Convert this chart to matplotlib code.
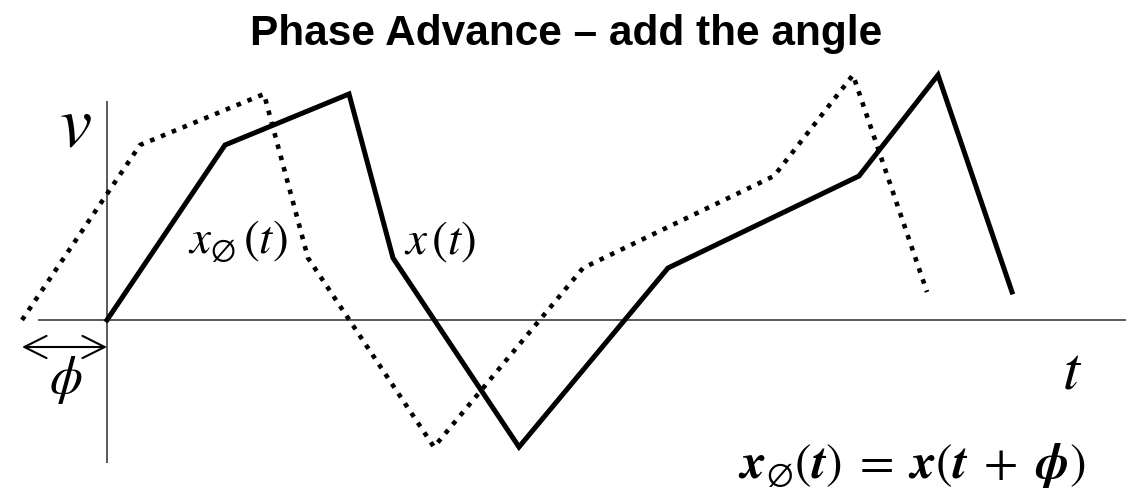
import matplotlib
matplotlib.use("Agg")
import matplotlib.pyplot as plt

plt.rcParams['mathtext.fontset'] = 'stix'

# waveform x(t): breakpoints of the piecewise-linear signal
t_pts = [0.0, 1.18, 2.42, 2.86, 4.12, 5.61, 7.52, 8.31, 9.05]
v_pts = [0.0, 1.75, 2.26, 0.62, -1.27, 0.52, 1.44, 2.45, 0.28]
phi = 0.85  # phase advance

t_adv = [t - phi for t in t_pts]

fig = plt.figure(figsize=(11.32, 4.92), dpi=100)
ax = fig.add_axes([0, 0, 1, 1])
ax.set_xlim(-1.07, 10.25)
ax.set_ylim(-1.72, 3.20)
ax.axis('off')

# axes drawn by hand
axis_col = '#595959'
ax.plot([-0.68, 10.18], [0, 0], color=axis_col, lw=1.4, zorder=1)
ax.plot([0, 0], [-1.42, 2.18], color=axis_col, lw=1.4, zorder=1)

# original and advanced signals
ax.plot(t_pts, v_pts, color='black', lw=3.6, solid_joinstyle='miter', zorder=3)
ax.plot(t_adv, v_pts, color='black', lw=3.3, linestyle=(0, (1.0, 1.55)),
        dash_capstyle='butt', zorder=2)

# phase offset arrow
ax.annotate('', xy=(0, -0.27), xytext=(-phi, -0.27),
            arrowprops=dict(arrowstyle='<->,head_length=0.8,head_width=0.4',
                            color='black', lw=1.5, mutation_scale=20,
                            shrinkA=0, shrinkB=0))

ax.text(-0.41, -0.60, r'$\phi$', fontsize=38, ha='center', va='center')
ax.text(-0.32, 1.94, r'$v$', fontsize=52, ha='center', va='center')
ax.text(9.65, -0.52, r'$t$', fontsize=44, ha='center', va='center')
ax.text(1.31, 0.78, r'$x_{\emptyset}\,(t)$', fontsize=34, ha='center', va='center')
ax.text(3.33, 0.78, r'$x\,(t)$', fontsize=34, ha='center', va='center')
ax.text(8.05, -1.46,
        r'$\mathbfit{x}_{\emptyset}(\mathbfit{t})\;=\;\mathbfit{x}(\mathbfit{t}\;+\;\mathbfit{\phi})$',
        fontsize=36, ha='center', va='center')

fig.text(0.5, 1 - 45 / 492, 'Phase Advance \u2013 add the angle',
         fontsize=30.5, fontweight='bold', family='Liberation Sans',
         ha='center', va='baseline')

fig.savefig('out.png', dpi=100)
